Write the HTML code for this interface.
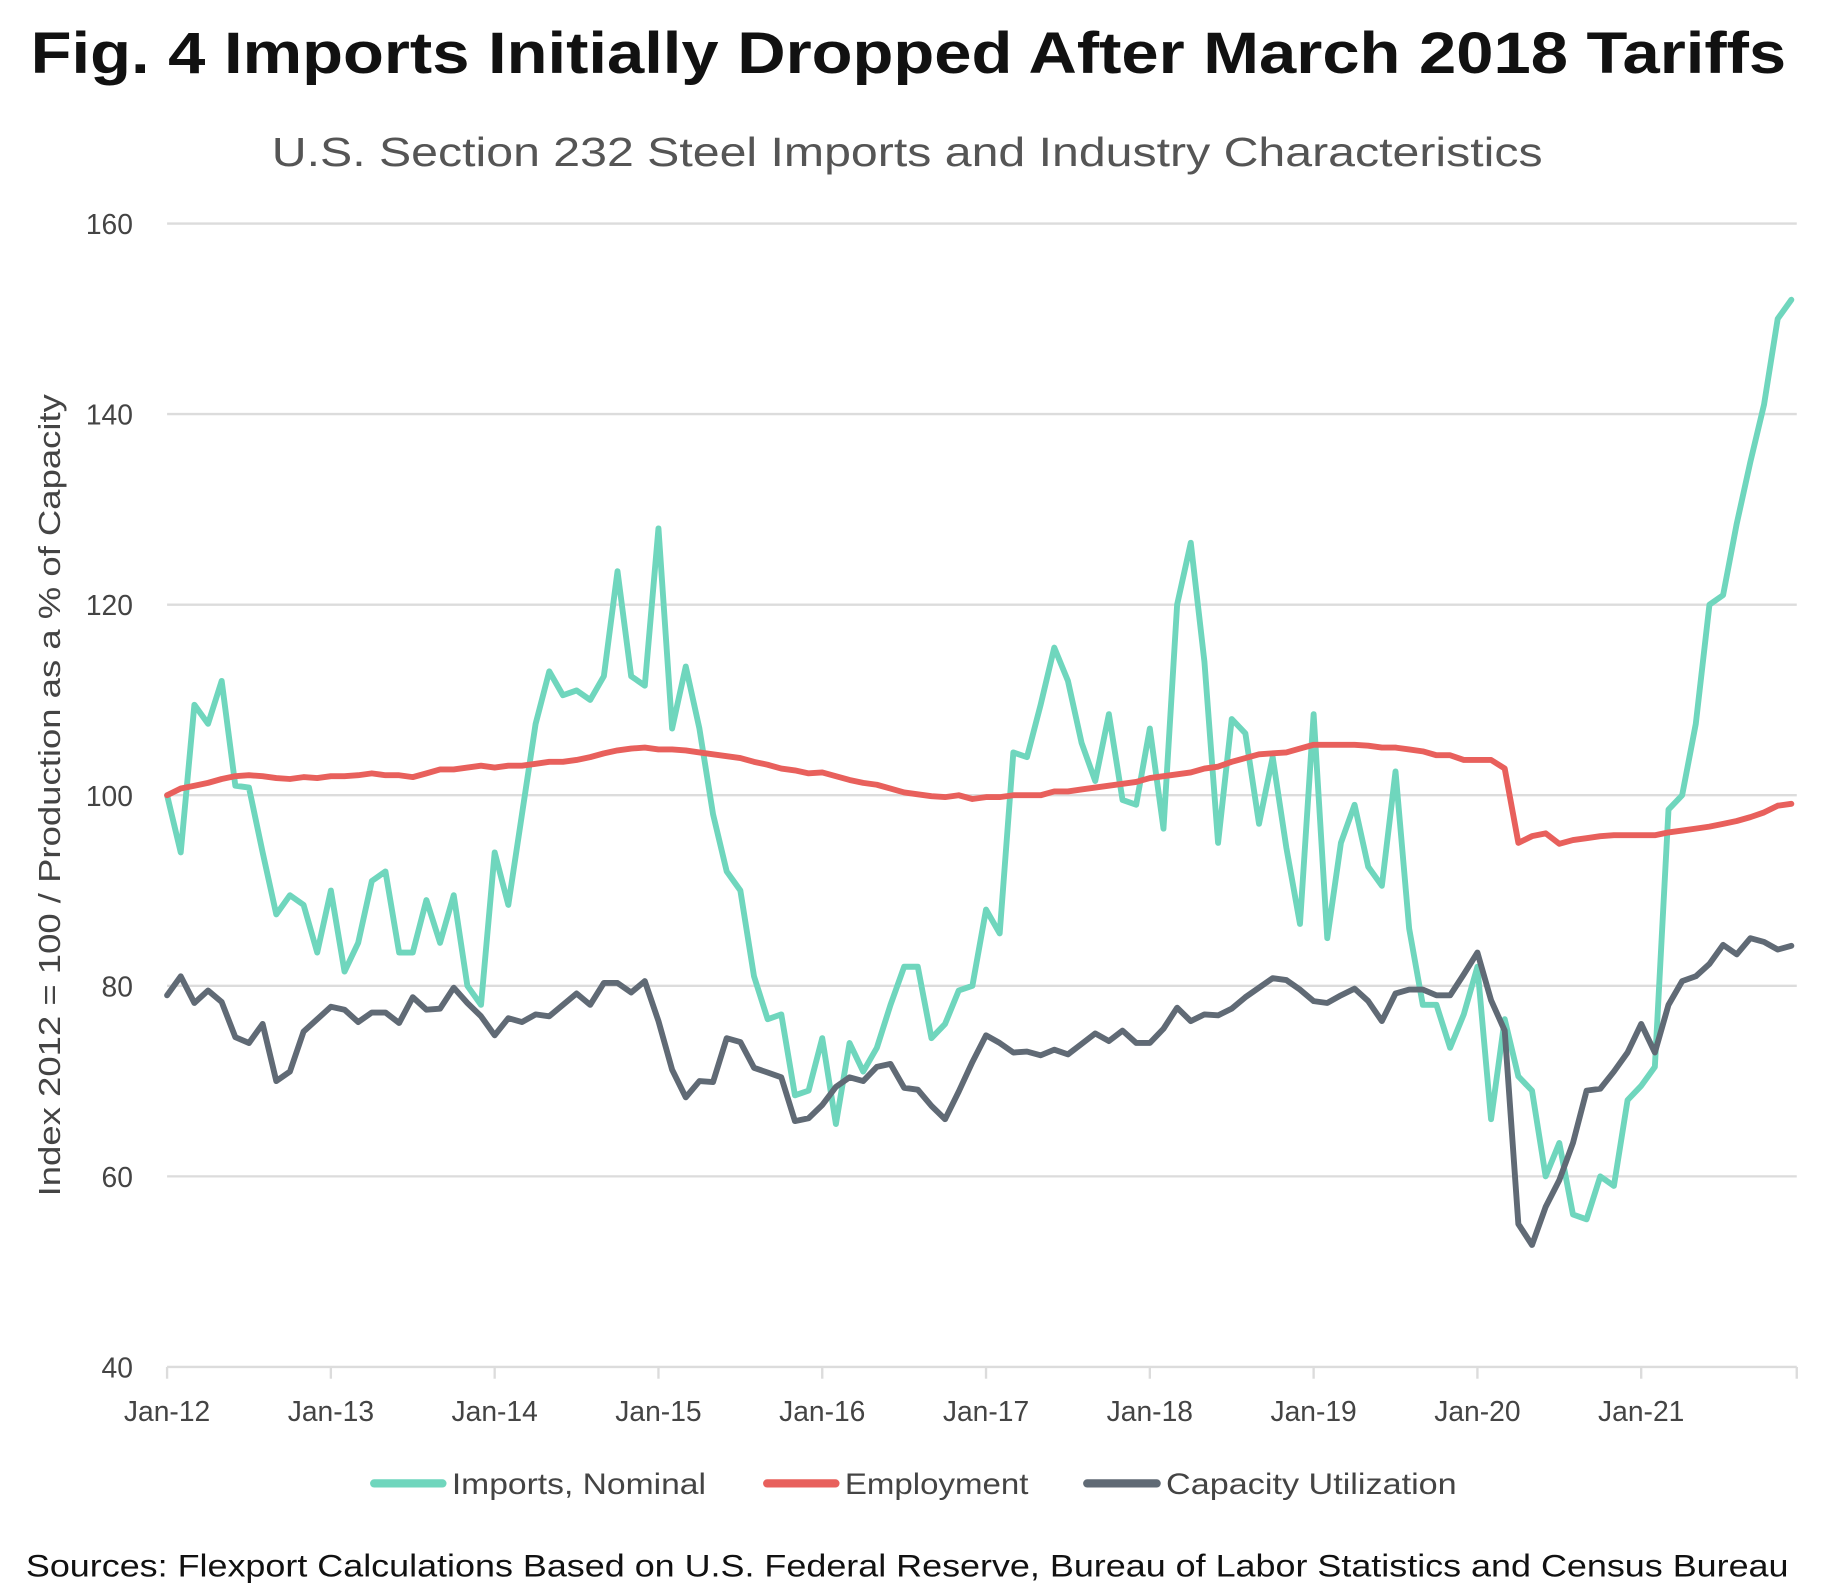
<!DOCTYPE html>
<html><head><meta charset="utf-8"><style>
html,body{margin:0;padding:0;background:#fff;}
svg{display:block;}
text{font-family:"Liberation Sans",sans-serif;}
</style></head><body>
<svg id="chart" width="1845" height="1594" viewBox="0 0 1568 1355" preserveAspectRatio="none" xmlns="http://www.w3.org/2000/svg">
<text x="26" y="62" font-size="50" font-weight="bold" fill="#111" textLength="1492" lengthAdjust="spacingAndGlyphs">Fig. 4 Imports Initially Dropped After March 2018 Tariffs</text>
<text x="771" y="141" font-size="35" fill="#555" text-anchor="middle" textLength="1080" lengthAdjust="spacingAndGlyphs">U.S. Section 232 Steel Imports and Industry Characteristics</text>
<text transform="translate(51,676) rotate(-90)" font-size="26" fill="#444" text-anchor="middle" textLength="682" lengthAdjust="spacingAndGlyphs">Index 2012 = 100 / Production as a % of Capacity</text>
<g id="grid"></g>
<g id="yticks"></g>
<g id="xticks"></g>
<g id="series"></g>
<g>
<g><line x1="318" y1="1261" x2="376" y2="1261" stroke="#6fd6bd" stroke-width="7" stroke-linecap="round"/><text x="384" y="1270" font-size="25" fill="#444" textLength="216" lengthAdjust="spacingAndGlyphs">Imports, Nominal</text></g>
<g><line x1="652" y1="1261" x2="710" y2="1261" stroke="#e8605c" stroke-width="7" stroke-linecap="round"/><text x="718" y="1270" font-size="25" fill="#444" textLength="156" lengthAdjust="spacingAndGlyphs">Employment</text></g>
<g><line x1="924" y1="1261" x2="983" y2="1261" stroke="#606a75" stroke-width="7" stroke-linecap="round"/><text x="991" y="1270" font-size="25" fill="#444" textLength="247" lengthAdjust="spacingAndGlyphs">Capacity Utilization</text></g>
</g>
<text x="22" y="1340" font-size="27" fill="#111" textLength="1498" lengthAdjust="spacingAndGlyphs">Sources: Flexport Calculations Based on U.S. Federal Reserve, Bureau of Labor Statistics and Census Bureau</text>
</svg>
<script>
const yTicks = [40, 60, 80, 100, 120, 140, 160];
const xLabels = ["Jan-12","Jan-13","Jan-14","Jan-15","Jan-16","Jan-17","Jan-18","Jan-19","Jan-20","Jan-21"];
const imports = [100,94,109.5,107.5,112,101,100.8,94,87.5,89.5,88.5,83.5,
90,81.5,84.5,91,92,83.5,83.5,89,84.5,89.5,80,78,
94,88.5,98,107.5,113,110.5,111,110,112.5,123.5,112.5,111.5,
128,107,113.5,107,98,92,90,81,76.5,77,68.5,69,
74.5,65.5,74,71,73.5,78,82,82,74.5,76,79.5,80,
88,85.5,104.5,104,109.5,115.5,112,105.5,101.5,108.5,99.5,99,
107,96.5,120,126.5,114,95,108,106.5,97,104,94.5,86.5,
108.5,85,95,99,92.5,90.5,102.5,86,78,78,73.5,77,
82,66,76.5,70.5,69,60,63.5,56,55.5,60,59,68,
69.5,71.5,98.5,100,107.5,120,121,128.5,135,141,150,152];
const employment = [100,100.7,101,101.3,101.7,102,102.1,102,101.8,101.7,101.9,101.8,
102,102,102.1,102.3,102.1,102.1,101.9,102.3,102.7,102.7,102.9,103.1,
102.9,103.1,103.1,103.3,103.5,103.5,103.7,104,104.4,104.7,104.9,105,
104.8,104.8,104.7,104.5,104.3,104.1,103.9,103.5,103.2,102.8,102.6,102.3,
102.4,102,101.6,101.3,101.1,100.7,100.3,100.1,99.9,99.8,100,99.6,
99.8,99.8,100,100,100,100.4,100.4,100.6,100.8,101,101.2,101.4,
101.8,102,102.2,102.4,102.8,103,103.5,103.9,104.3,104.4,104.5,104.9,
105.3,105.3,105.3,105.3,105.2,105,105,104.8,104.6,104.2,104.2,103.7,
103.7,103.7,102.8,95,95.7,96,94.9,95.3,95.5,95.7,95.8,95.8,
95.8,95.8,96.1,96.3,96.5,96.7,97,97.3,97.7,98.2,98.9,99.1];
const capacity = [79,81,78.2,79.5,78.3,74.6,74,76,70,71,75.2,76.5,
77.8,77.5,76.2,77.2,77.2,76.1,78.8,77.5,77.6,79.8,78.2,76.8,
74.8,76.6,76.2,77,76.8,78,79.2,78,80.3,80.3,79.3,80.5,
76.3,71.2,68.3,70,69.9,74.5,74.1,71.4,70.9,70.4,65.8,66.1,
67.5,69.4,70.4,70,71.5,71.8,69.3,69.1,67.4,66,68.9,72,
74.8,74,73,73.1,72.7,73.3,72.8,73.9,75,74.2,75.3,74,
74,75.5,77.7,76.3,77,76.9,77.6,78.8,79.8,80.8,80.6,79.6,
78.4,78.2,79,79.7,78.4,76.3,79.2,79.6,79.6,79,79,81.2,
83.5,78.5,75.3,55,52.8,56.8,59.6,63.5,69,69.2,71,73,
76,73,78,80.5,81,82.3,84.3,83.3,85,84.6,83.8,84.2];

const NS = "http://www.w3.org/2000/svg";
const X0 = 142, MONTH = 11.6, XEND = 1527;
const Y40 = 1162, PERUNIT = 8.1;
function xScale(i){ return X0 + i * MONTH; }
function yScale(v){ return Y40 - (v - 40) * PERUNIT; }
function mk(tag, attrs, parent){ const e = document.createElementNS(NS, tag); for (const k in attrs) e.setAttribute(k, attrs[k]); parent.appendChild(e); return e; }

const grid = document.getElementById('grid');
const yt = document.getElementById('yticks');
yTicks.forEach(v => {
  const ln = mk('line', {x1: X0, x2: XEND, y1: yScale(v), y2: yScale(v), stroke: '#dcdcdc', 'stroke-width': 2}, grid);
  
  
  const t = mk('text', {x: 113, y: yScale(v) + 9, 'font-size': 24, fill: '#444', 'text-anchor': 'end'}, yt);
  t.textContent = v;
  
  
});
const xt = document.getElementById('xticks');
for (let k = 0; k <= 10; k++) {
  const x = k < 10 ? xScale(k * 12) : XEND;
  const tk = mk('line', {x1: x, x2: x, y1: Y40, y2: Y40 + 10, stroke: '#dcdcdc', 'stroke-width': 2}, xt);
  
  
}
xLabels.forEach((lab, k) => {
  const t = mk('text', {x: xScale(k * 12), y: 1208, 'font-size': 24, fill: '#444', 'text-anchor': 'middle'}, xt);
  t.textContent = lab;
  
  
});

const series = document.getElementById('series');
function drawLine(vals, color, name){
  const d = vals.map((v, i) => (i ? 'L' : 'M') + xScale(i).toFixed(1) + ',' + yScale(v).toFixed(1)).join(' ');
  const p = mk('path', {d: d, fill: 'none', stroke: color, 'stroke-width': 5, 'stroke-linejoin': 'round', 'stroke-linecap': 'round'}, series);
  
  
}
drawLine(imports, '#6fd6bd', 'imports-line');
drawLine(employment, '#e8605c', 'employment-line');
drawLine(capacity, '#606a75', 'capacity-line');
</script>
</body></html>
